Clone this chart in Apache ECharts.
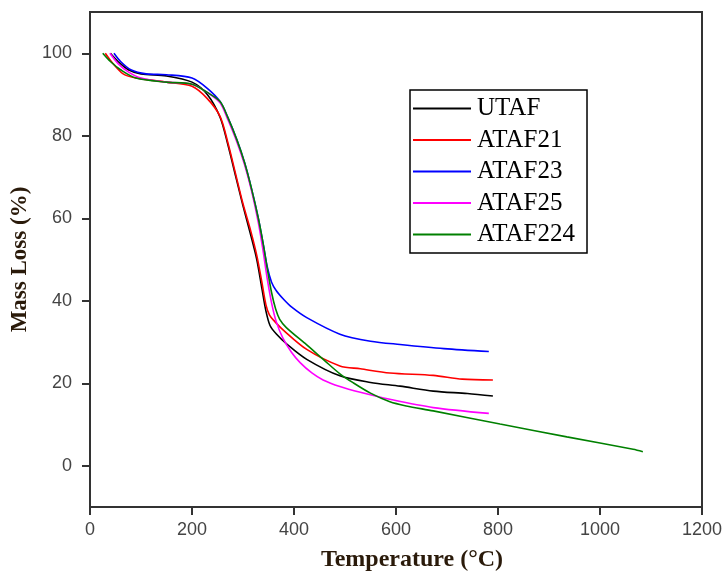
<!DOCTYPE html>
<html>
<head>
<meta charset="utf-8">
<script src="https://cdn.jsdelivr.net/npm/echarts@6/dist/echarts.min.js"></script>
<style>html,body{margin:0;padding:0;background:#fff}#c{width:726px;height:577px}</style>
</head>
<body>
<div id="c"></div>
<script>
var seriesNames = ['UTAF', 'ATAF21', 'ATAF23', 'ATAF25', 'ATAF224'];
var seriesColors = ['#000000', '#ff0000', '#0000ff', '#ff00ff', '#008000'];
var xTicks = [0, 200, 400, 600, 800, 1000, 1200];
var yTicks = [0, 20, 40, 60, 80, 100];

var utafT = [40, 55, 75, 100, 150, 200, 230, 255, 270, 285, 300, 315, 327, 337, 345, 353, 365, 386, 425, 490, 550, 608, 673, 740, 790];
var utafM = [100, 98, 96, 95, 94.5, 93, 90, 84.5, 78, 70.5, 63, 56, 50, 43, 37.5, 34, 32, 29.5, 25.8, 21.8, 20.2, 19.3, 18.1, 17.5, 16.9];

var ataf21T = [30, 45, 65, 90, 150, 200, 230, 255, 270, 285, 300, 315, 327, 337, 345, 352, 362, 378, 425, 490, 530, 588, 673, 730, 790];
var ataf21M = [100, 97.5, 95, 94, 93, 92, 89, 84.7, 78.5, 71, 63.5, 57, 51, 44.5, 39, 36.5, 35, 33, 28.2, 24.2, 23.5, 22.5, 21.9, 21, 20.8];

var ataf23T = [47, 60, 80, 110, 150, 200, 230, 255, 270, 288, 303, 317, 330, 340, 348, 356, 365, 380, 395, 425, 490, 550, 608, 694, 782];
var ataf23M = [100, 98, 96, 95, 94.8, 94, 91.5, 88.3, 84.5, 79, 73.5, 67, 60, 53.5, 48, 44.5, 42.5, 40.3, 38.5, 35.9, 31.9, 30.2, 29.4, 28.4, 27.7];

var ataf25T = [39, 55, 75, 100, 150, 200, 230, 255, 270, 288, 303, 317, 330, 339, 348, 356, 365, 378, 395, 412, 435, 457, 490, 530, 588, 673, 782];
var ataf25M = [100, 97.5, 95.5, 94, 93, 92.5, 90.5, 88, 84, 78.5, 73, 66.5, 59, 52.4, 45, 39.5, 35, 31, 27.5, 25, 22.5, 20.8, 19.2, 17.8, 16.1, 14.1, 12.7];

var ataf224T = [25, 40, 60, 90, 150, 200, 230, 255, 270, 288, 303, 317, 330, 340, 348, 356, 364, 372, 385, 425, 460, 490, 515, 550, 588, 620, 673, 804, 935, 1065, 1084];
var ataf224M = [100, 98, 96, 94, 93, 92.5, 90.5, 88.3, 84.5, 79, 73.5, 67, 60, 53.5, 47.5, 42, 38, 35.5, 33.5, 29.3, 25.5, 22.3, 20.2, 17.6, 15.5, 14.5, 13.3, 10.1, 7.0, 4.0, 3.4];

var allT = [utafT, ataf21T, ataf23T, ataf25T, ataf224T];
var allM = [utafM, ataf21M, ataf23M, ataf25M, ataf224M];

function pairs(t, m) { return t.map(function (v, i) { return [v, m[i]]; }); }

var chart = echarts.init(document.getElementById('c'), null, {renderer: 'canvas'});
var series = seriesNames.map(function (name, i) {
  return {
    name: name,
    type: 'line',
    data: pairs(allT[i], allM[i]),
    showSymbol: false,
    symbol: 'none',
    smooth: 0.3,
    lineStyle: {color: seriesColors[i], width: 1.6},
    itemStyle: {color: seriesColors[i]},
    animation: false
  };
});

chart.setOption({
  animation: false,
  backgroundColor: '#ffffff',
  grid: {left: 90, right: 24, top: 12, bottom: 69, show: true, borderColor: '#333333', borderWidth: 2, backgroundColor: 'transparent'},
  legend: {
    data: seriesNames,
    orient: 'vertical',
    left: 410,
    top: 90,
    padding: [6, 12, 6, 3],
    itemWidth: 58,
    itemHeight: 2,
    itemGap: 6.5,
    icon: 'rect',
    borderColor: '#000000',
    borderWidth: 1.5,
    backgroundColor: '#ffffff',
    textStyle: {fontFamily: 'Liberation Serif', fontSize: 25, color: '#000000', lineHeight: 25, padding: [0, 0, 0, 1]}
  },
  xAxis: {
    type: 'value',
    min: 0,
    max: 1200,
    interval: 200,
    name: 'Temperature (\u00b0C)',
    nameLocation: 'middle',
    nameGap: 41,
    nameTextStyle: {fontFamily: 'Liberation Serif', fontWeight: 'bold', fontSize: 24, color: '#2a1a0a', padding: [0, 0, 0, 32]},
    axisLine: {show: true, onZero: false, lineStyle: {color: '#333333', width: 2}},
    axisTick: {show: true, inside: false, length: 8, lineStyle: {color: '#333333', width: 2}, customValues: xTicks},
    axisLabel: {fontFamily: 'Liberation Sans', fontSize: 18, color: '#444444', margin: 14, customValues: xTicks, formatter: function (v) { return String(v); }},
    splitLine: {show: false}
  },
  yAxis: {
    type: 'value',
    min: -10,
    max: 110,
    name: 'Mass Loss (%)',
    nameLocation: 'middle',
    nameRotate: 90,
    nameGap: 53,
    nameTextStyle: {fontFamily: 'Liberation Serif', fontWeight: 'bold', fontSize: 23, color: '#2a1a0a'},
    axisLine: {show: true, onZero: false, lineStyle: {color: '#333333', width: 2}},
    axisTick: {show: true, inside: false, length: 8, lineStyle: {color: '#333333', width: 2}, customValues: yTicks},
    axisLabel: {fontFamily: 'Liberation Sans', fontSize: 18, color: '#444444', margin: 18, customValues: yTicks, formatter: function (v) { return String(v); }},
    splitLine: {show: false}
  },
  series: series
});
</script>
</body>
</html>
